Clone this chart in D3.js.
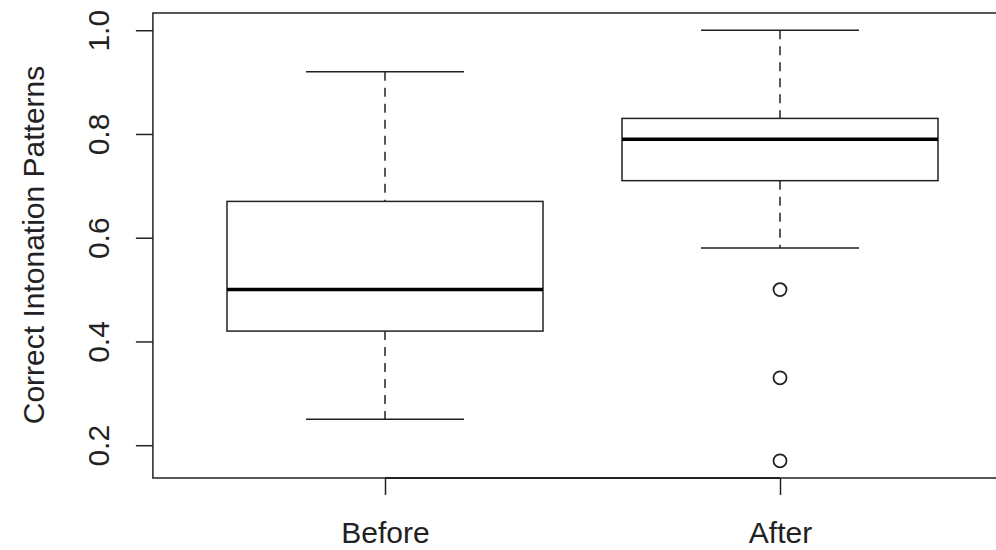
<!DOCTYPE html>
<html>
<head>
<meta charset="utf-8">
<script src="https://cdn.jsdelivr.net/npm/d3@7"></script>
<style>
  body { margin: 0; background: #fff; }
  svg { display: block; }
</style>
</head>
<body>
<svg></svg>
<script>
// groups and their five-number summaries
const groups = ["Before", "After"];
const lowWhisker = [0.25, 0.58];
const q1 = [0.42, 0.71];
const median = [0.50, 0.79];
const q3 = [0.67, 0.83];
const highWhisker = [0.92, 1.0];
// outliers per group
const outliers = [[], [0.50, 0.33, 0.17]];
const yTicks = [0.2, 0.4, 0.6, 0.8, 1.0];

const data = groups.map((g, i) => ({
    name: g, pos: i + 1,
    lo: lowWhisker[i], q1: q1[i], med: median[i], q3: q3[i], hi: highWhisker[i],
    out: outliers[i]
}));

var svgWidth = 996, svgHeight = 550;
var ink = "#222";
var font = "Liberation Sans, Arial, sans-serif";

var svg = d3.select("svg")
    .attr("width", svgWidth)
    .attr("height", svgHeight);

// R style: positions 1..2, 4% padding
var x = d3.scaleLinear().domain([1, 2]).range([385, 780]);
var y = d3.scaleLinear().domain([0.1368, 1.0332]).range([478, 13]);

var left = x(0.42) - 3, right = x(2.58);

// plot frame
svg.append("rect")
    .attr("x", left).attr("y", y.range()[1])
    .attr("width", right - left).attr("height", y.range()[0] - y.range()[1])
    .attr("fill", "none").attr("stroke", ink).attr("stroke-width", 1.5);

// y axis
var yAxis = svg.append("g")
    .attr("transform", "translate(" + left + ",0)")
    .call(d3.axisLeft(y).tickValues(yTicks).tickFormat(d3.format(".1f")).tickSize(17));
yAxis.select(".domain").remove();
yAxis.selectAll(".tick line").attr("stroke", ink).attr("stroke-width", 1.5);
yAxis.selectAll(".tick text")
    .attr("x", 0).attr("dy", "0.35em")
    .attr("transform", "translate(-54,0) rotate(-90)")
    .attr("text-anchor", "middle")
    .attr("font-family", font)
    .attr("font-size", 30)
    .attr("fill", ink);

// x axis: only between the groups
var xAxis = svg.append("g")
    .attr("transform", "translate(0," + y.range()[0] + ")")
    .call(d3.axisBottom(x).tickValues([1, 2]).tickFormat((d, i) => groups[i]).tickSize(17).tickPadding(27));
xAxis.select(".domain").attr("stroke", ink).attr("stroke-width", 2.2).attr("d", "M" + x(1) + ",0H" + x(2));
xAxis.selectAll(".tick line").attr("stroke", ink).attr("stroke-width", 1.5);
xAxis.selectAll(".tick text")
    .attr("font-family", font)
    .attr("font-size", 30)
    .attr("fill", ink);

// y title
svg.append("text")
    .attr("transform", "translate(44,245) rotate(-90)")
    .attr("text-anchor", "middle")
    .attr("font-family", font)
    .attr("font-size", 30)
    .attr("fill", ink)
    .text("Correct Intonation Patterns");

var boxHalf = 0.4, capHalf = 0.2;

var box = svg.selectAll(".box")
    .data(data)
    .enter()
    .append("g")
    .attr("class", "box");

// dashed whiskers
box.append("line")
    .attr("x1", d => x(d.pos)).attr("x2", d => x(d.pos))
    .attr("y1", d => y(d.hi)).attr("y2", d => y(d.q3))
    .attr("stroke", ink).attr("stroke-width", 1.5).attr("stroke-dasharray", "9,7");
box.append("line")
    .attr("x1", d => x(d.pos)).attr("x2", d => x(d.pos))
    .attr("y1", d => y(d.q1)).attr("y2", d => y(d.lo))
    .attr("stroke", ink).attr("stroke-width", 1.5).attr("stroke-dasharray", "9,7");

// staples
box.selectAll(".cap")
    .data(d => [d.lo, d.hi].map(v => ({ pos: d.pos, v: v })))
    .enter()
    .append("line")
    .attr("x1", d => x(d.pos - capHalf)).attr("x2", d => x(d.pos + capHalf))
    .attr("y1", d => y(d.v)).attr("y2", d => y(d.v))
    .attr("stroke", ink).attr("stroke-width", 1.5);

// box
box.append("rect")
    .attr("x", d => x(d.pos - boxHalf))
    .attr("width", d => x(d.pos + boxHalf) - x(d.pos - boxHalf))
    .attr("y", d => y(d.q3))
    .attr("height", d => y(d.q1) - y(d.q3))
    .attr("fill", "#fff").attr("stroke", ink).attr("stroke-width", 1.5);

// median
box.append("line")
    .attr("x1", d => x(d.pos - boxHalf)).attr("x2", d => x(d.pos + boxHalf))
    .attr("y1", d => y(d.med)).attr("y2", d => y(d.med))
    .attr("stroke", "#000").attr("stroke-width", 3.5);

// outliers
box.selectAll("circle")
    .data(d => d.out.map(v => ({ pos: d.pos, v: v })))
    .enter()
    .append("circle")
    .attr("cx", d => x(d.pos)).attr("cy", d => y(d.v))
    .attr("r", 6.5)
    .attr("fill", "none").attr("stroke", ink).attr("stroke-width", 1.8);
</script>
</body>
</html>
